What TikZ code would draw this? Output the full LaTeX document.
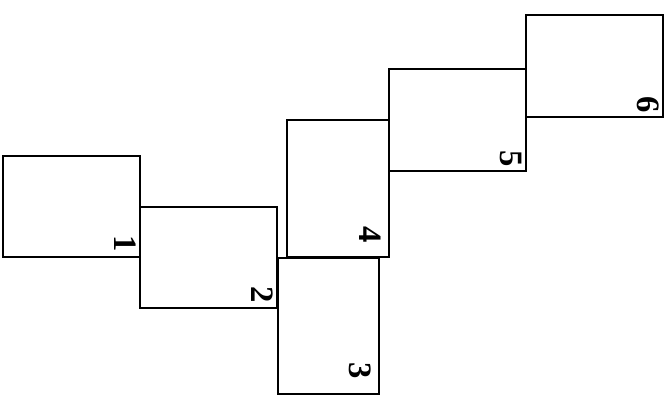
\documentclass[tikz,border=0pt]{standalone}
\usepackage{fontspec}
\setmainfont{Liberation Serif}
\begin{document}
\begin{tikzpicture}[x=0.75pt,y=-0.75pt,
  sheet/.style={draw=black,line width=1.1pt,fill=white},
  num/.style={inner sep=0pt,rotate=-90,font=\fontsize{24.5}{24.5}\selectfont\bfseries}]
\useasboundingbox (0,0) rectangle (670,395);
% sheets: corners (top-left) and (bottom-right)
\coordinate (a1) at (3,156);   \coordinate (b1) at (140,257);
\coordinate (a2) at (140,207); \coordinate (b2) at (277,308);
\coordinate (a3) at (278,258); \coordinate (b3) at (379,394);
\coordinate (a4) at (287,120); \coordinate (b4) at (389,257);
\coordinate (a5) at (389,69);  \coordinate (b5) at (526,171);
\coordinate (a6) at (526,15);  \coordinate (b6) at (663,117);
\foreach \i/\dx/\dy in {1/-15/-13, 2/-14.5/-13, 3/-19/-23.5, 4/-18.5/-22.5, 5/-15/-12.5, 6/-14.5/-12}{
  \draw[sheet] (a\i) rectangle (b\i);
  \node[num] (n\i) at ([shift={(\dx,\dy)}]b\i) {\i};
}
\end{tikzpicture}
\end{document}
